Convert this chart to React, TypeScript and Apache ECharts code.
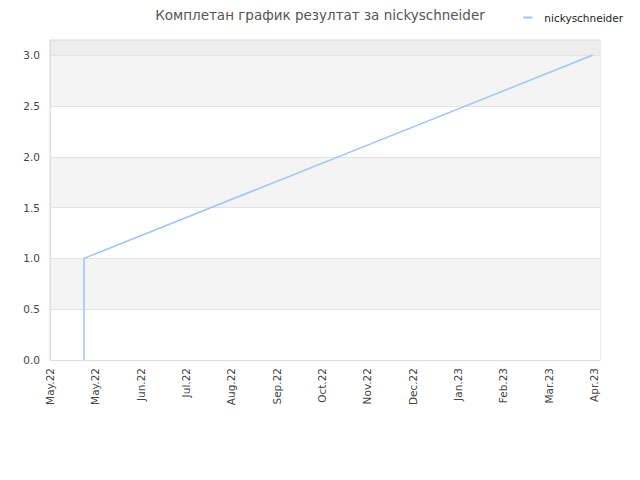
import React, { useEffect, useRef } from "react";
import * as echarts from "echarts";

const titleText = "Комплетан график резултат за nickyschneider";
const seriesName = "nickyschneider";
const tickLabels = [
  "May.22", "May.22", "Jun.22", "Jul.22", "Aug.22", "Sep.22", "Oct.22",
  "Nov.22", "Dec.22", "Jan.23", "Feb.23", "Mar.23", "Apr.23",
];
// days since the first tick (ticks every 30 days)
const pointDays = [22.5, 22.5, 359];
const pointValues = [0, 1, 3];
const xMaxDays = 364;
const tickStepDays = 30;
const yMax = 3.15;

export default function App() {
  const ref = useRef<HTMLDivElement>(null);
  useEffect(() => {
    document.body.style.margin = "0";
    const chart = echarts.init(ref.current!, null, { renderer: "svg" });
    const font = "DejaVu Sans";
    chart.setOption({
      animation: false,
      backgroundColor: "#ffffff",
      title: {
        text: titleText,
        left: "center",
        top: 3,
        textStyle: { fontFamily: font, fontSize: 13.5, fontWeight: "normal", color: "#555555" },
      },
      legend: {
        right: 12,
        top: 7,
        itemWidth: 9,
        itemHeight: 2,
        icon: "rect",
        textStyle: { fontFamily: font, fontSize: 10.5, color: "#222222", padding: [0, 0, 0, 7] },
        data: [seriesName],
      },
      grid: {
        left: 50,
        right: 40,
        top: 40,
        bottom: 120,
        show: true,
        borderColor: "#dddddd",
        borderWidth: 1,
        containLabel: false,
      },
      xAxis: {
        type: "value",
        min: 0,
        max: xMaxDays,
        interval: tickStepDays,
        axisLine: { show: true, lineStyle: { color: "#dddddd" } },
        axisTick: { show: false },
        splitLine: { show: false },
        axisLabel: {
          rotate: 90,
          fontFamily: font,
          fontSize: 10.5,
          color: "#444444",
          margin: 8,
          showMaxLabel: false,
          formatter: (v: number) => {
            const i = Math.round(v / tickStepDays);
            return Math.abs(v - i * tickStepDays) < 1e-6 && tickLabels[i] ? tickLabels[i] : "";
          },
        },
      },
      yAxis: {
        type: "value",
        min: 0,
        max: yMax,
        interval: 0.5,
        axisLine: { show: true, lineStyle: { color: "#dddddd" } },
        axisTick: { show: false },
        axisLabel: {
          fontFamily: font,
          fontSize: 10.5,
          color: "#444444",
          margin: 10,
          showMaxLabel: false,
          formatter: (v: number) => v.toFixed(1),
        },
        splitLine: { show: true, lineStyle: { color: "#e2e2e2" } },
        splitArea: {
          show: true,
          areaStyle: {
            color: ["#ffffff", "#f4f4f4", "#ffffff", "#f4f4f4", "#ffffff", "#f4f4f4", "#ededed"],
          },
        },
      },
      series: [
        {
          name: seriesName,
          type: "line",
          data: pointDays.map((d, i) => [d, pointValues[i]]),
          showSymbol: false,
          symbol: "none",
          lineStyle: { color: "#97c5f5", width: 1.5 },
          itemStyle: { color: "#97c5f5" },
        },
      ],
    });
    return () => chart.dispose();
  }, []);
  return <div ref={ref} style={{ width: 640, height: 480 }} />;
}
